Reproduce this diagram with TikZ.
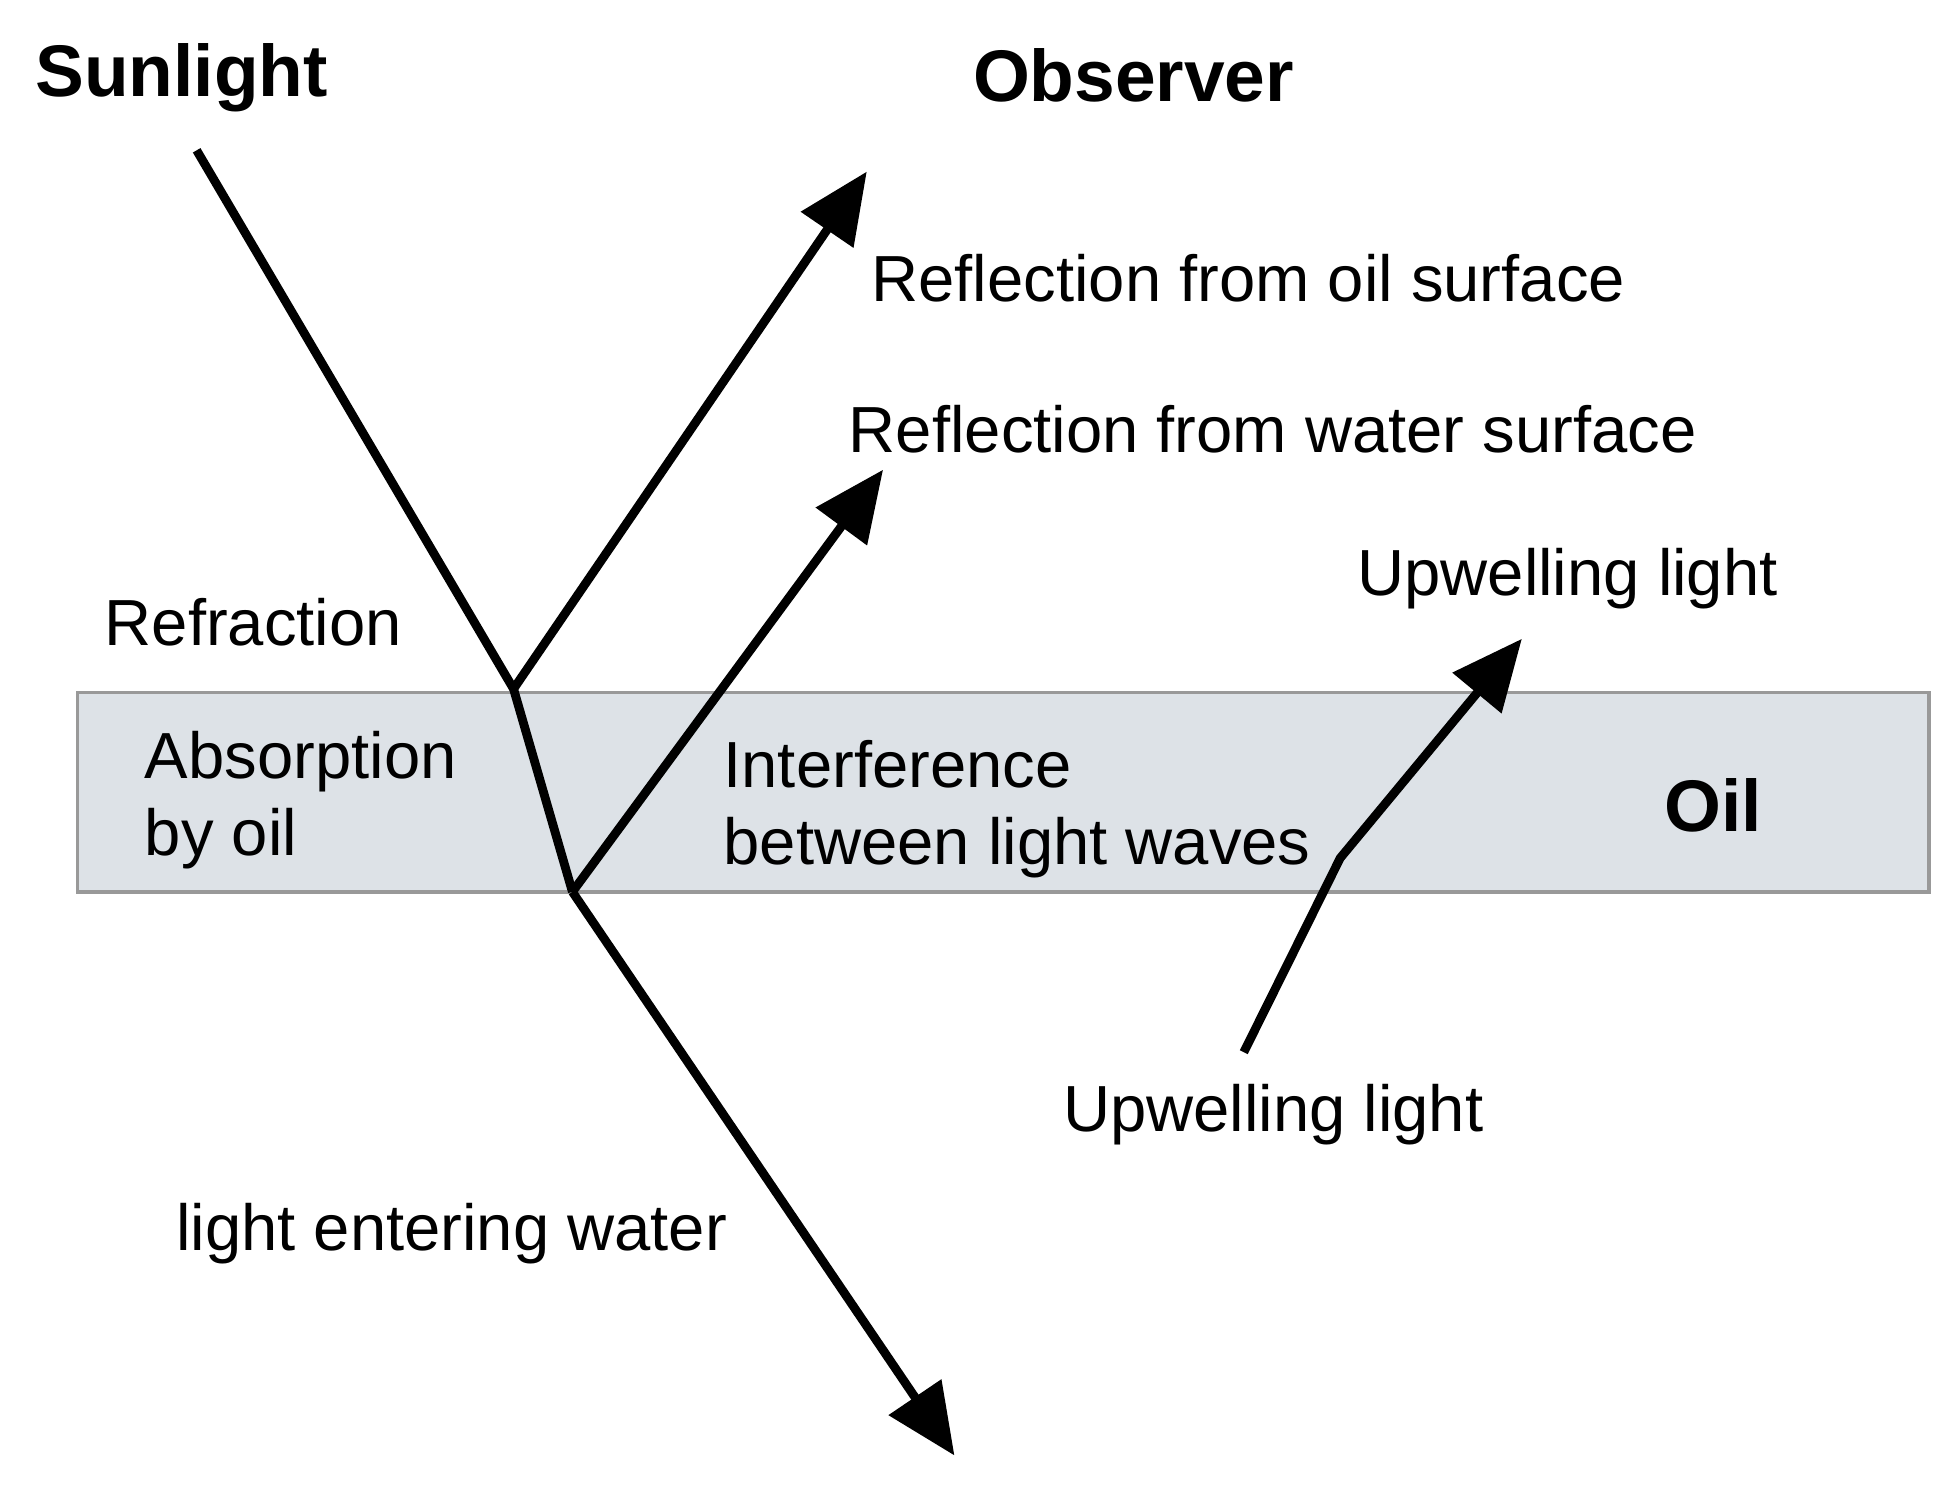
\documentclass[tikz,border=0pt]{standalone}
\usepackage{fontspec}
\setmainfont{Liberation Sans}
\usetikzlibrary{arrows.meta}
\begin{document}
\begin{tikzpicture}[x=0.01cm,y=-0.01cm,
  ray/.style={line width=2pt,line join=miter},
  arr/.style={ray,-{Triangle[length=16pt,width=14pt]}},
  lbl/.style={anchor=west,inner sep=0,font=\fontsize{14.8pt}{17.5pt}\selectfont},
  ttl/.style={inner sep=0,font=\bfseries\fontsize{16.6pt}{19pt}\selectfont}]
\useasboundingbox (0,0) rectangle (1560,1190);
\path[draw=gray!80,fill={rgb,255:red,221;green,226;blue,231},line width=0.8pt] (62,553) rectangle (1540,712);
\node[ttl] (sun) at (145,62) {Sunlight};
\node[ttl] (obs) at (905,60) {Observer};
\node[ttl] (oiltxt) at (1368,643) {Oil};
\coordinate (s0) at (157,120);
\coordinate (A) at (410,550);
\coordinate (B) at (457,712);
\coordinate (r1) at (692,137);
\coordinate (r2) at (705,375);
\coordinate (w) at (762,1162);
\coordinate (u0) at (993,840);
\coordinate (u1) at (1070,685);
\coordinate (u2) at (1215,510);
\draw[ray] (s0) -- (A) -- (B);
\draw[arr] (A) -- (r1);
\draw[arr] (B) -- (r2);
\draw[arr] (B) -- (w);
\draw[arr] (u0) -- (u1) -- (u2);
\node[lbl] (l1) at (695,222) {Reflection from oil surface};
\node[lbl] (l2) at (677,343) {Reflection from water surface};
\node[lbl] (l3) at (1083,462) {Upwelling light};
\node[lbl] (l4) at (83,497) {Refraction};
\node[lbl,align=left] (l5) at (115,639) {Absorption\\by oil};
\node[lbl,align=left] (l6) at (577,646) {Interference\\between light waves};
\node[lbl] (l7) at (848,890) {Upwelling light};
\node[lbl] (l8) at (140,985) {light entering water};
\end{tikzpicture}
\end{document}
